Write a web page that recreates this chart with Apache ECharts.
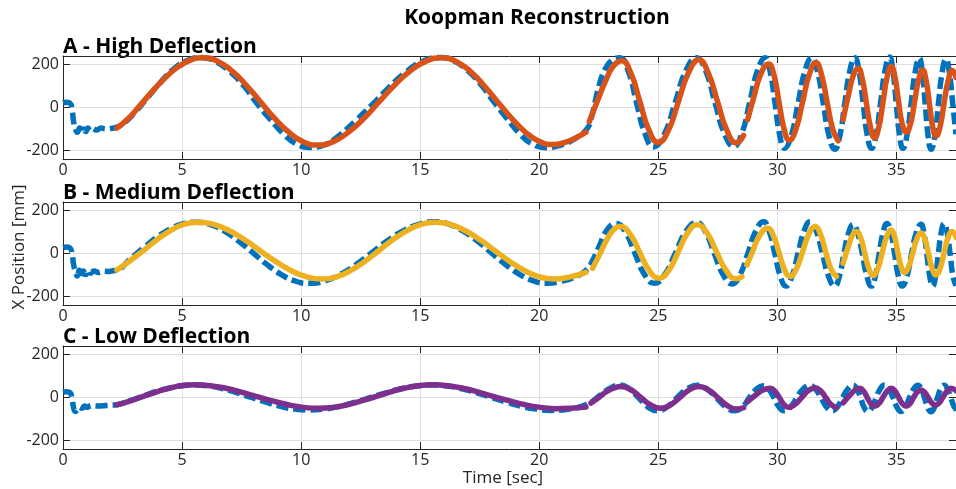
<!DOCTYPE html>
<html>
<head>
<meta charset="utf-8">
<title>Koopman Reconstruction</title>
<script src="https://cdn.jsdelivr.net/npm/echarts@6/dist/echarts.min.js"></script>
<style>
  html, body { margin: 0; padding: 0; background: #ffffff; }
  #main { width: 956px; height: 489px; }
</style>
</head>
<body>
<div id="main"></div>
<script>
// ---- axis ticks and limits ----
const timeTicks = [0, 5, 10, 15, 20, 25, 30, 35];
const posTicks = [-200, 0, 200];
const timeLimits = [0, 37.5];
const posLimits = [-240, 240];

// ---- A: high deflection, measured [time s, x mm] ----
const measA = [
  [0,22],[0.15,24],[0.3,20],[0.38,-10],[0.45,-70],[0.52,-100],[0.6,-115],[0.7,-95],[0.78,-118],[0.86,-100],
  [0.95,-112],[1.05,-96],[1.15,-108],[1.25,-98],[1.4,-105],[1.6,-96],[1.8,-100],[2.0,-98],[2.2,-94],
  [2.5,-78],[3.0,-25],[3.5,40],[4.0,105],[4.6,175],[5.2,218],[5.8,233],[6.4,215],[7.0,168],[7.6,100],
  [8.1,25],[8.7,-55],[9.3,-128],[9.8,-170],[10.35,-186],[10.95,-175],[11.6,-130],[12.3,-60],[13.0,15],
  [13.7,95],[14.4,165],[15.1,215],[15.85,233],[16.4,218],[17.0,172],[17.6,100],[18.1,25],[18.6,-45],
  [19.2,-125],[19.7,-170],[20.3,-188],[20.9,-175],[21.5,-145],[22.0,-100],[22.2,-42],[22.5,98],[22.75,175],
  [23.05,220],[23.38,232],[23.735,170],[24.09,20],[24.445,-124],[24.8,-184],[25.25,-124],[25.7,20],
  [26.15,170],[26.6,232],[26.99,170],[27.385,20],[27.78,-123],[28.17,-182],[28.5,-123],[28.83,20],
  [29.16,170],[29.49,232],[29.69,170],[29.9,20],[30.1,-130],[30.3,-190],[30.585,-130],[30.87,20],
  [31.155,170],[31.44,232],[31.68,170],[31.925,20],[32.17,-133],[32.41,-195],[32.62,-133],[32.83,20],
  [33.04,170],[33.25,232],[33.425,170],[33.6,20],[33.775,-130],[33.95,-190],[34.14,-130],[34.33,20],
  [34.52,172],[34.71,235],[34.85,172],[34.99,20],[35.13,-130],[35.27,-190],[35.44,-130],[35.615,20],
  [35.79,168],[35.96,230],[36.08,168],[36.205,20],[36.33,-133],[36.45,-195],[36.61,-133],[36.765,20],
  [36.92,165],[37.08,225],[37.22,165],[37.36,20],[37.5,-125]
];
// ---- A: Koopman reconstruction, one array per fitted window ----
const reconA1 = [
  [2.26,-96],[2.7,-56],[3.2,5],[3.7,69],[4.2,128],[4.8,187],[5.35,221],[5.88,232],[6.48,216],[7.08,172],
  [7.68,106],[8.28,28],[8.88,-50],[9.48,-115],[10.08,-160],[10.68,-175],[11.33,-160],[11.99,-115],[12.64,-50],
  [13.29,28],[13.94,106],[14.6,172],[15.25,216],[15.9,232],[16.48,216],[17.07,172],[17.65,106],[18.24,28],
  [18.82,-48],[19.4,-113],[19.99,-157],[20.57,-173],[21.2,-158],[21.6,-138],[21.96,-115]
];
const reconA2 = [
  [22.1,-66],[22.45,33],[22.8,128],[23.1,191],[23.46,218],[23.84,162],[24.225,27],[24.61,-107],[24.99,-163],
  [25.42,-107],[25.845,28],[26.27,163],[26.7,222],[27.09,163],[27.485,28],[27.88,-107],[28.27,-165],[28.58,-130]
];
const reconA3 = [
  [28.75,-57],[29.0,44],[29.3,156],[29.63,203],[29.85,154],[30.065,27],[30.28,-100],[30.5,-153],[30.78,-100],
  [31.06,27],[31.34,154],[31.62,209],[31.85,154],[32.085,27],[32.32,-100],[32.55,-155]
];
const reconA4 = [
  [32.76,-57],[33.0,67],[33.2,154],[33.39,183],[33.56,137],[33.735,22],[33.91,-93],[34.08,-142],[34.255,-93],
  [34.43,22],[34.605,140],[34.78,191],[34.94,140],[35.095,22],[35.25,-80],[35.41,-115],[35.58,-80],[35.755,22],
  [35.93,130],[36.1,175],[36.24,130],[36.38,22],[36.52,-90],[36.66,-133],[36.83,-90],[37.0,22],[37.18,130],
  [37.35,172],[37.5,140]
];

// ---- B: medium deflection ----
const measB = [
  [0,28],[0.15,30],[0.3,25],[0.38,0],[0.45,-55],[0.52,-85],[0.6,-105],[0.68,-78],[0.76,-110],[0.85,-82],
  [0.95,-98],[1.05,-78],[1.15,-92],[1.3,-82],[1.5,-88],[1.7,-82],[1.9,-84],[2.1,-80],[2.26,-78],
  [2.8,-28],[3.4,28],[4.0,80],[4.6,120],[5.1,140],[5.6,146],[6.19,135],[6.78,104],[7.37,58],[7.965,4],
  [8.56,-51],[9.15,-97],[9.74,-128],[10.33,-139],[10.99,-128],[11.65,-97],[12.31,-51],[12.97,4],[13.62,59],
  [14.28,105],[14.94,136],[15.6,148],[16.2,137],[16.79,105],[17.39,59],[17.98,4],[18.58,-51],[19.17,-97],
  [19.77,-128],[20.36,-139],[20.9,-130],[21.5,-110],[22.0,-75],[22.25,-30],[22.5,30],[22.85,110],[23.22,140],
  [23.62,99],[24.02,0],[24.42,-98],[24.82,-139],[25.265,-98],[25.71,0],[26.155,102],[26.6,145],
  [26.975,102],[27.35,0],[27.725,-100],[28.1,-142],[28.43,-100],[28.76,0],[29.09,105],[29.42,148],
  [29.655,105],[29.89,0],[30.125,-107],[30.36,-152],[30.61,-107],[30.865,0],[31.12,105],[31.37,148],
  [31.63,105],[31.89,0],[32.15,-107],[32.41,-152],[32.6,-107],[32.795,0],[32.99,96],[33.18,136],
  [33.37,96],[33.565,0],[33.76,-107],[33.95,-152],[34.11,-107],[34.275,0],[34.44,99],[34.6,140],
  [34.76,99],[34.92,0],[35.08,-107],[35.24,-152],[35.44,-107],[35.635,0],[35.83,96],[36.03,136],
  [36.15,96],[36.275,0],[36.4,-107],[36.52,-152],[36.64,-107],[36.76,0],[36.88,99],[37.0,140],
  [37.125,99],[37.25,0],[37.375,-107],[37.5,-150]
];
const reconB1 = [
  [2.26,-77],[2.8,-35],[3.4,16],[4.0,69],[4.6,112],[5.1,137],[5.67,146],[6.32,136],[6.97,107],[7.63,64],
  [8.28,13],[8.93,-37],[9.59,-80],[10.24,-109],[10.89,-119],[11.48,-109],[12.07,-80],[12.67,-37],[13.26,13],
  [13.85,64],[14.45,107],[15.04,136],[15.63,146],[16.26,136],[16.88,107],[17.51,64],[18.14,13],[18.76,-37],
  [19.39,-80],[20.01,-109],[20.64,-119],[21.3,-109],[21.96,-88]
];
const reconB2 = [
  [22.24,-69],[22.55,-1],[22.85,67],[23.12,111],[23.4,126],[23.81,91],[24.215,6],[24.62,-80],[25.03,-115],
  [25.43,-80],[25.83,6],[26.23,96],[26.63,134],[27.04,96],[27.45,6],[27.86,-81],[28.27,-118],[28.51,-108]
];
const reconB3 = [
  [28.72,-53],[28.95,7],[29.25,83],[29.59,118],[29.825,85],[30.06,7],[30.295,-73],[30.53,-107],[30.79,-73],
  [31.055,7],[31.32,91],[31.58,126],[31.805,91],[32.03,7],[32.255,-73],[32.48,-107]
];
const reconB4 = [
  [32.76,-45],[33.0,40],[33.15,84],[33.32,103],[33.495,75],[33.67,0],[33.845,-72],[34.02,-103],[34.21,-72],
  [34.4,3],[34.59,79],[34.78,110],[34.92,79],[35.06,3],[35.2,-62],[35.34,-88],[35.51,-62],[35.685,3],
  [35.86,69],[36.03,96],[36.19,69],[36.345,0],[36.5,-70],[36.66,-100],[36.83,-70],[37.0,3],[37.16,72],
  [37.33,102],[37.5,75]
];

// ---- C: low deflection ----
const measC = [
  [0,25],[0.15,27],[0.3,22],[0.38,-5],[0.45,-50],[0.52,-65],[0.6,-55],[0.68,-45],[0.8,-50],[0.9,-40],
  [1.0,-45],[1.2,-38],[1.4,-40],[1.7,-38],[2.0,-36],[2.26,-34],
  [2.8,-15],[3.4,8],[4.0,31],[4.6,47],[5.1,56],[5.5,58],[6.1,54],[6.71,41],[7.31,22],[7.915,0],[8.52,-22],
  [9.12,-41],[9.73,-54],[10.33,-58],[10.98,-54],[11.62,-41],[12.27,-22],[12.92,0],[13.56,22],[14.21,41],
  [14.85,54],[15.5,58],[16.13,54],[16.75,41],[17.38,22],[18.0,0],[18.63,-22],[19.25,-41],[19.88,-54],
  [20.5,-60],[21.2,-55],[21.8,-40],[22.2,-20],[22.6,15],[23.0,45],[23.38,58],
  [23.77,41],[24.165,0],[24.56,-44],[24.95,-62],[25.37,-44],[25.79,0],[26.21,40],[26.63,57],
  [27.03,40],[27.43,0],[27.83,-44],[28.23,-62],[28.53,-44],[28.825,0],[29.12,39],[29.42,55],
  [29.635,39],[29.85,0],[30.065,-44],[30.28,-62],[30.55,-44],[30.815,0],[31.08,40],[31.35,57],
  [31.59,40],[31.825,0],[32.06,-44],[32.3,-62],[32.52,-44],[32.74,0],[32.96,40],[33.18,57],
  [33.335,40],[33.49,0],[33.645,-46],[33.8,-65],[33.975,-46],[34.15,0],[34.325,41],[34.5,58],
  [34.675,41],[34.85,0],[35.025,-46],[35.2,-65],[35.375,-46],[35.55,0],[35.725,40],[35.9,57],
  [36.04,40],[36.175,0],[36.31,-47],[36.45,-66],[36.59,-47],[36.725,0],[36.86,40],[37.0,57],
  [37.14,40],[37.28,0],[37.42,-42],[37.55,-60]
];
const reconC1 = [
  [2.26,-34],[2.8,-17],[3.4,6],[4.0,29],[4.6,47],[5.1,57],[5.53,59],[6.18,55],[6.84,43],[7.49,25],[8.14,4],
  [8.79,-16],[9.45,-34],[10.1,-46],[10.75,-50],[11.34,-46],[11.94,-34],[12.53,-16],[13.13,4],[13.72,25],
  [14.31,43],[14.91,55],[15.5,59],[16.15,55],[16.8,43],[17.45,25],[18.1,4],[18.76,-16],[19.41,-34],
  [20.06,-46],[20.71,-52],[21.3,-50],[21.96,-44]
];
const reconC2 = [
  [22.17,-26],[22.5,0],[22.85,29],[23.15,45],[23.43,51],[23.85,36],[24.265,0],[24.68,-35],[25.1,-50],
  [25.5,-35],[25.9,0],[26.3,36],[26.7,51],[27.1,36],[27.5,0],[27.9,-38],[28.3,-54],[28.58,-48]
];
const reconC3 = [
  [28.75,-19],[29.05,8],[29.35,32],[29.7,43],[29.89,30],[30.08,0],[30.27,-32],[30.46,-46],[30.74,-32],
  [31.02,0],[31.3,32],[31.58,46],[31.805,32],[32.03,0],[32.255,-33],[32.48,-47]
];
const reconC4 = [
  [32.76,-25],[33.0,5],[33.25,33],[33.46,43],[33.615,30],[33.77,0],[33.925,-29],[34.08,-41],[34.255,-29],
  [34.43,0],[34.605,30],[34.78,43],[34.94,30],[35.095,0],[35.25,-29],[35.41,-41],[35.565,-29],[35.72,0],
  [35.875,25],[36.03,35],[36.18,25],[36.33,0],[36.48,-25],[36.63,-35],[36.795,-25],[36.96,3],[37.125,30],
  [37.29,43],[37.5,32]
];

const panelTitles = ['A - High Deflection', 'B - Medium Deflection', 'C - Low Deflection'];
const figureTitle = 'Koopman Reconstruction';
const xLabel = 'Time [sec]';
const yLabel = 'X Position [mm]';

// ---- styling / layout ----
const FONT = '"Open Sans", "Noto Sans", sans-serif';
const AXIS_COLOR = '#262626';
const GRID_COLOR = '#dfdfdf';
const MEAS_COLOR = '#0072BD';
const RECON_COLORS = ['#D95319', '#EDB120', '#7E2F8E'];
const PLOT_LEFT = 63, PLOT_WIDTH = 897, PLOT_HEIGHT = 103;
const PLOT_TOPS = [56, 202, 346];

const panels = [
  { meas: measA, recon: [reconA1, reconA2, reconA3, reconA4] },
  { meas: measB, recon: [reconB1, reconB2, reconB3, reconB4] },
  { meas: measC, recon: [reconC1, reconC2, reconC3, reconC4] }
];

const grid = [], xAxis = [], yAxis = [], series = [], graphic = [];

const tickStyle = { color: AXIS_COLOR, width: 1 };
const lineStyleAxis = { color: AXIS_COLOR, width: 1 };

panels.forEach((p, i) => {
  grid.push({ left: PLOT_LEFT, top: PLOT_TOPS[i], width: PLOT_WIDTH, height: PLOT_HEIGHT, containLabel: false });

  // bottom (labelled) and top (box) time axes
  xAxis.push({
    type: 'value', gridIndex: i, min: timeLimits[0], max: timeLimits[1], position: 'bottom',
    axisLine: { show: true, onZero: false, lineStyle: lineStyleAxis },
    axisTick: { show: true, inside: true, length: 7, customValues: timeTicks, lineStyle: tickStyle },
    axisLabel: { show: true, customValues: timeTicks, color: AXIS_COLOR, fontSize: 16, fontFamily: FONT, margin: 3 },
    splitLine: { show: true, lineStyle: { color: GRID_COLOR, width: 1 } }
  });
  xAxis.push({
    type: 'value', gridIndex: i, min: timeLimits[0], max: timeLimits[1], position: 'top',
    axisLine: { show: true, onZero: false, lineStyle: lineStyleAxis },
    axisTick: { show: true, inside: true, length: 7, customValues: timeTicks, lineStyle: tickStyle },
    axisLabel: { show: false },
    splitLine: { show: false }
  });
  // left (labelled) and right (box) position axes
  yAxis.push({
    type: 'value', gridIndex: i, min: posLimits[0], max: posLimits[1], position: 'left',
    axisLine: { show: true, onZero: false, lineStyle: lineStyleAxis },
    axisTick: { show: true, inside: true, length: 7, customValues: posTicks, lineStyle: tickStyle },
    axisLabel: { show: true, customValues: posTicks, color: AXIS_COLOR, fontSize: 16, fontFamily: FONT, margin: 4 },
    splitLine: { show: true, lineStyle: { color: GRID_COLOR, width: 1 } }
  });
  yAxis.push({
    type: 'value', gridIndex: i, min: posLimits[0], max: posLimits[1], position: 'right',
    axisLine: { show: true, onZero: false, lineStyle: lineStyleAxis },
    axisTick: { show: true, inside: true, length: 7, customValues: posTicks, lineStyle: tickStyle },
    axisLabel: { show: false },
    splitLine: { show: false }
  });

  series.push({
    type: 'line', xAxisIndex: 2 * i, yAxisIndex: 2 * i, data: p.meas,
    showSymbol: false, symbol: 'none', smooth: 0.5, silent: true, z: 2,
    lineStyle: { color: MEAS_COLOR, width: 5.5, type: [12, 5], cap: 'butt', join: 'round' }
  });
  p.recon.forEach(seg => {
    series.push({
      type: 'line', xAxisIndex: 2 * i, yAxisIndex: 2 * i, data: seg,
      showSymbol: false, symbol: 'none', smooth: 0.5, silent: true, z: 3,
      lineStyle: { color: RECON_COLORS[i], width: 5.5, type: 'solid', cap: 'round', join: 'round' }
    });
  });

  graphic.push({
    type: 'text', x: PLOT_LEFT, y: PLOT_TOPS[i] - 9, silent: true,
    style: { text: panelTitles[i], fill: '#000', font: 'bold 21px ' + FONT,
             align: 'left', verticalAlign: 'middle', textAlign: 'left', textVerticalAlign: 'middle' }
  });
});

graphic.push({
  type: 'text', x: 537, y: 18, silent: true,
  style: { text: figureTitle, fill: '#000', font: 'bold 21px ' + FONT,
           align: 'center', verticalAlign: 'middle', textAlign: 'center', textVerticalAlign: 'middle' }
});
graphic.push({
  type: 'text', x: 503, y: 478, silent: true,
  style: { text: xLabel, fill: AXIS_COLOR, font: '17px ' + FONT,
           align: 'center', verticalAlign: 'middle', textAlign: 'center', textVerticalAlign: 'middle' }
});
graphic.push({
  type: 'text', x: 19, y: 247, rotation: Math.PI / 2, silent: true,
  style: { text: yLabel, fill: AXIS_COLOR, font: '17px ' + FONT,
           align: 'center', verticalAlign: 'middle', textAlign: 'center', textVerticalAlign: 'middle' }
});

const chart = echarts.init(document.getElementById('main'), null, { renderer: 'canvas' });
chart.setOption({
  animation: false,
  backgroundColor: '#ffffff',
  grid, xAxis, yAxis, series, graphic
});
</script>
</body>
</html>
